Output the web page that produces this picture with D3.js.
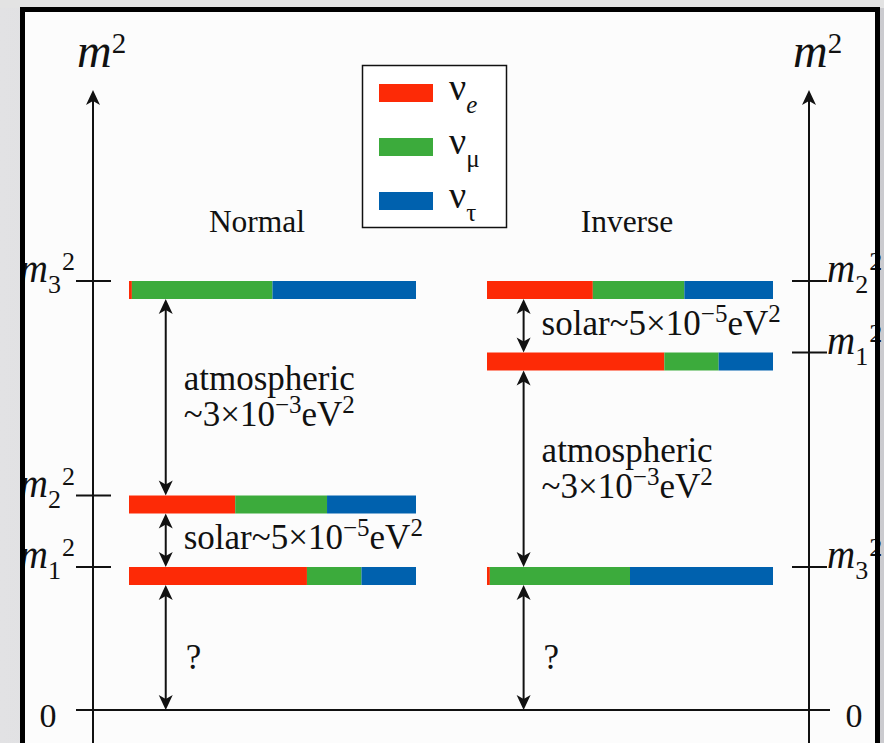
<!DOCTYPE html>
<html>
<head>
<meta charset="utf-8">
<script src="https://cdn.jsdelivr.net/npm/d3@7"></script>
<style>
  html, body { margin: 0; padding: 0; background: #dcdcdc; overflow: hidden; }
  text { font-family: "Liberation Serif", "DejaVu Serif", serif; fill: #111; }
</style>
</head>
<body>
<svg id="chart"></svg>
<script>
// flavour legend
const flavourSubs = ['e', 'μ', 'τ'];
const flavourColors = ['#fd2a06', '#3cab3c', '#0061ae'];

// flavour content (νe, νμ, ντ) of each mass state m1, m2, m3
const m1Mix = [0.62, 0.19, 0.19];
const m2Mix = [0.37, 0.32, 0.31];
const m3Mix = [0.01, 0.49, 0.50];
const stateSubs = ['1', '2', '3'];

// schematic m² of m1, m2, m3 (arbitrary units)
const normalLevels = [2, 3, 6];
const inverseLevels = [5, 6, 2];

const width = 884, height = 743;
const barH = 18;

const svg = d3.select('#chart').attr('width', width).attr('height', height);

// page background + slide frame
const bg = svg.append('defs').append('linearGradient')
  .attr('id', 'side').attr('x1', 0).attr('x2', 1).attr('y1', 0).attr('y2', 0);
bg.append('stop').attr('offset', 0).attr('stop-color', '#e2e2e4');
bg.append('stop').attr('offset', 1).attr('stop-color', '#cbcbcf');
svg.append('rect').attr('width', width).attr('height', height).attr('fill', 'url(#side)');
svg.append('rect').attr('width', width).attr('height', 8).attr('fill', '#e3e3e3');
svg.append('rect').attr('x', 22.5).attr('y', 9.5).attr('width', 855).attr('height', 800)
  .attr('fill', '#fcfcfc');

const y = d3.scaleLinear().domain([0, 6]).range([710, 281]);
const xNormal = d3.scaleLinear().domain([0, 1]).range([129, 416]);
const xInverse = d3.scaleLinear().domain([0, 1]).range([487, 773]);
const axisTop = 90;
const leftAxisX = 93, rightAxisX = 809;

function arrowHead(g, x, yTip, dir) {
  // dir = -1 points up, +1 points down
  const L = 15, W = 7, n = 11;
  g.append('path')
    .attr('d', `M${x},${yTip} L${x - W},${yTip - dir * L} L${x},${yTip - dir * n} L${x + W},${yTip - dir * L} Z`)
    .attr('fill', '#111');
}

const axes = svg.append('g');
// zero line
axes.append('line').attr('x1', 76).attr('x2', 830).attr('y1', y(0)).attr('y2', y(0))
  .attr('stroke', '#111').attr('stroke-width', 2);
[leftAxisX, rightAxisX].forEach(ax => {
  axes.append('line').attr('x1', ax).attr('x2', ax).attr('y1', axisTop + 8).attr('y2', height + 5)
    .attr('stroke', '#111').attr('stroke-width', 2);
  arrowHead(axes, ax, axisTop, -1);
  const t = axes.append('text').attr('x', ax - 16).attr('y', 67)
    .style('font-size', '48px').style('font-style', 'italic');
  t.append('tspan').text('m');
  t.append('tspan').text('2').style('font-style', 'normal').style('font-size', '29px').attr('dy', -14);
  axes.append('text').attr('x', ax < 400 ? 48 : 854).attr('y', 727)
    .attr('text-anchor', 'middle').style('font-size', '34px').text('0');
});

// level ticks and labels
function levelLabels(levels, side) {
  levels.forEach((v, i) => {
    const ax = side === 'left' ? leftAxisX : rightAxisX;
    axes.append('line').attr('x1', ax - 17).attr('x2', ax + 18).attr('y1', y(v)).attr('y2', y(v))
      .attr('stroke', '#111').attr('stroke-width', 2);
    const t = axes.append('text')
      .attr('x', side === 'left' ? 75 : ax + 18)
      .attr('y', y(v) + 1)
      .attr('text-anchor', side === 'left' ? 'end' : 'start')
      .style('font-size', '39px');
    t.append('tspan').text('m').style('font-style', 'italic');
    t.append('tspan').text(stateSubs[i]).style('font-size', '26px').attr('dy', 11);
    t.append('tspan').text('2').style('font-size', '26px').attr('dx', 1).attr('dy', -23);
  });
}
levelLabels(normalLevels, 'left');
levelLabels(inverseLevels, 'right');

// bars
const mixes = [m1Mix, m2Mix, m3Mix];
function drawBars(levels, xs) {
  const g = svg.append('g');
  levels.forEach((v, i) => {
    const ends = Array.from(d3.cumsum(mixes[i]));
    mixes[i].forEach((f, k) => {
      const start = k === 0 ? 0 : ends[k - 1];
      g.append('rect')
        .attr('x', xs(start)).attr('width', xs(ends[k]) - xs(start))
        .attr('y', y(v)).attr('height', barH)
        .attr('fill', flavourColors[k]);
    });
  });
}
drawBars(normalLevels, xNormal);
drawBars(inverseLevels, xInverse);

// splitting arrows and annotations
function sciText(t, lead, exp) {
  t.append('tspan').text(lead);
  t.append('tspan').text(exp).style('font-size', '25px').attr('dy', -13);
  t.append('tspan').text('eV').attr('dy', 13);
  t.append('tspan').text('2').style('font-size', '25px').attr('dy', -13);
}
function gapLabel(g, x, yMid, kind) {
  const fs = '35px';
  if (kind === 'solar') {
    const t = g.append('text').attr('x', x).attr('y', yMid + 9).style('font-size', fs);
    sciText(t, 'solar~5×10', '−5');
  } else if (kind === 'atm') {
    g.append('text').attr('x', x).attr('y', yMid - 7).style('font-size', fs).text('atmospheric');
    const t = g.append('text').attr('x', x).attr('y', yMid + 29).style('font-size', fs);
    sciText(t, '~3×10', '−3');
  } else {
    g.append('text').attr('x', x + 2).attr('y', yMid + 21).style('font-size', fs).text('?');
  }
}
function drawGaps(levels, xs) {
  const g = svg.append('g');
  const ax = xs(0.128);
  const sorted = [0].concat(levels.slice().sort((a, b) => a - b));
  for (let k = 0; k < sorted.length - 1; k++) {
    const y1 = y(sorted[k + 1]) + barH;
    const y2 = y(sorted[k]);
    g.append('line').attr('x1', ax).attr('x2', ax).attr('y1', y1 + 6).attr('y2', y2 - 6)
      .attr('stroke', '#111').attr('stroke-width', 2);
    arrowHead(g, ax, y1, -1);
    arrowHead(g, ax, y2, 1);
    const gap = sorted[k + 1] - sorted[k];
    const kind = k === 0 ? 'q' : (gap < 2 ? 'solar' : 'atm');
    gapLabel(g, ax + 18, (y1 + y2) / 2, kind);
  }
}
drawGaps(normalLevels, xNormal);
drawGaps(inverseLevels, xInverse);

// scheme titles
svg.append('text').attr('x', 257).attr('y', 232).attr('text-anchor', 'middle')
  .style('font-size', '31.5px').text('Normal');
svg.append('text').attr('x', 627).attr('y', 232).attr('text-anchor', 'middle')
  .style('font-size', '31.5px').text('Inverse');

// legend
const legend = svg.append('g');
legend.append('rect').attr('x', 362.5).attr('y', 65.5).attr('width', 144).attr('height', 162)
  .attr('fill', '#fff').attr('stroke', '#111').attr('stroke-width', 1.5);
const ly = d3.scalePoint().domain(flavourSubs).range([84, 192]);
flavourSubs.forEach((s, k) => {
  legend.append('rect').attr('x', 379).attr('y', ly(s)).attr('width', 54).attr('height', barH)
    .attr('fill', flavourColors[k]);
  const t = legend.append('text').attr('x', 449).attr('y', ly(s) + 16).style('font-size', '38px');
  t.append('tspan').text('ν');
  t.append('tspan').text(s).style('font-size', '25px').attr('dy', 13)
    .style('font-style', s === 'e' ? 'italic' : 'normal');
});

// slide frame on top
svg.append('rect').attr('x', 22.5).attr('y', 9.5).attr('width', 855).attr('height', 800)
  .attr('fill', 'none').attr('stroke', '#000').attr('stroke-width', 5);
</script>
</body>
</html>
